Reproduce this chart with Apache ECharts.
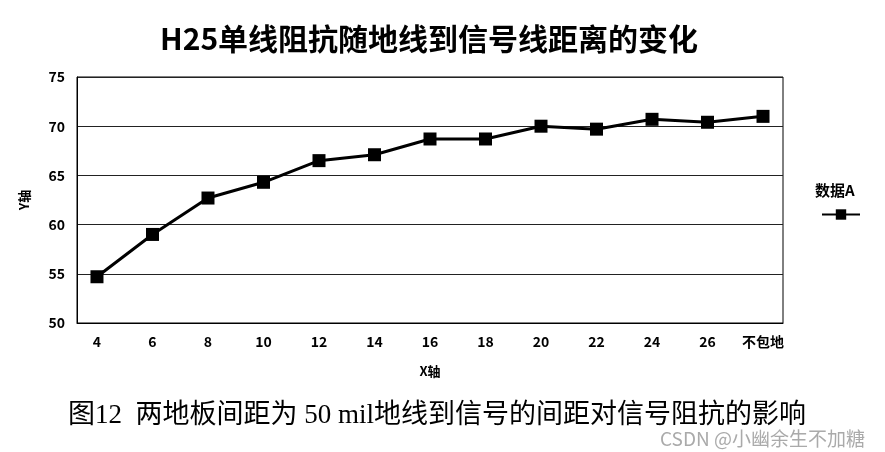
<!DOCTYPE html>
<html><head><meta charset="utf-8">
<script src="https://cdn.jsdelivr.net/npm/echarts@6/dist/echarts.min.js"></script>
<style>html,body{margin:0;padding:0;background:#fff}#c{width:885px;height:452px}</style>
</head><body><div id="c"></div>
<script>
const categories = ['4','6','8','10','12','14','16','18','20','22','24','26','不包地'];
const valuesA = [54.7, 59.0, 62.7, 64.3, 66.5, 67.1, 68.7, 68.7, 70.0, 69.7, 70.7, 70.4, 71.0];
const yTicks = [50, 55, 60, 65, 70, 75];
const titleText = 'H25单线阻抗随地线到信号线距离的变化';
const captionText = '图12  两地板间距为 50 mil地线到信号的间距对信号阻抗的影响';
const seriesName = '数据A';

const chart = echarts.init(document.getElementById('c'), null, {renderer:'canvas'});
const labelFont = {color:'#000', fontWeight:'bold', fontSize:14, fontFamily:'Noto Sans CJK SC'};
chart.setOption({
  animation:false,
  title:[
    {text:titleText, left:155, top:19, textStyle:{fontSize:30, fontWeight:'bold', color:'#000', fontFamily:'Noto Sans CJK SC'}},
    {text:seriesName, left:810, top:178, textStyle:{fontSize:15, fontWeight:'bold', color:'#000', fontFamily:'Noto Sans CJK SC'}},
    {text:captionText, left:63, top:397, textStyle:{fontSize:27, fontWeight:'normal', color:'#000', fontFamily:'Liberation Serif, Noto Sans CJK SC'}},
    {text:'CSDN @小幽余生不加糖', left:655, top:424, textStyle:{fontSize:19, fontWeight:'normal', color:'#aaa', fontFamily:'Noto Sans CJK SC'}}
  ],
  legend:{data:[seriesName], left:816, top:203, itemWidth:38, itemHeight:13, formatter:function(){return '';}, itemGap:0, textStyle:{fontSize:1}},
  grid:{left:77, right:102, top:77, bottom:129, show:true, borderColor:'#000', borderWidth:1},
  xAxis:{type:'value', min:-0.36, max:12.36,
    axisLine:{show:true, onZero:false, lineStyle:{color:'#000', width:1}},
    axisTick:{show:false},
    splitLine:{show:false},
    axisLabel:Object.assign({customValues:categories.map((c,i)=>i), formatter:function(v){return categories[Math.round(v)];}, margin:12}, labelFont),
    name:'X轴', nameLocation:'middle', nameGap:42, nameTextStyle:{fontSize:13, fontWeight:'bold', color:'#000', fontFamily:'Noto Sans CJK SC'}
  },
  yAxis:{type:'value', min:50, max:75, interval:5,
    axisLine:{show:true, onZero:false, lineStyle:{color:'#000'}},
    axisTick:{show:false},
    splitLine:{show:true, lineStyle:{color:'#222', width:1}},
    axisLabel:Object.assign({margin:12, customValues:yTicks}, labelFont),
    name:'Y轴', nameLocation:'middle', nameGap:46, nameRotate:90, nameTextStyle:{fontSize:13, fontWeight:'bold', color:'#000', fontFamily:'Noto Sans CJK SC'}
  },
  series:[{name:seriesName, type:'line', data:valuesA.map((v,i)=>[i,v]),
    symbol:'rect', symbolSize:13, lineStyle:{color:'#000', width:3}, itemStyle:{color:'#000'}}]
});
</script></body></html>
